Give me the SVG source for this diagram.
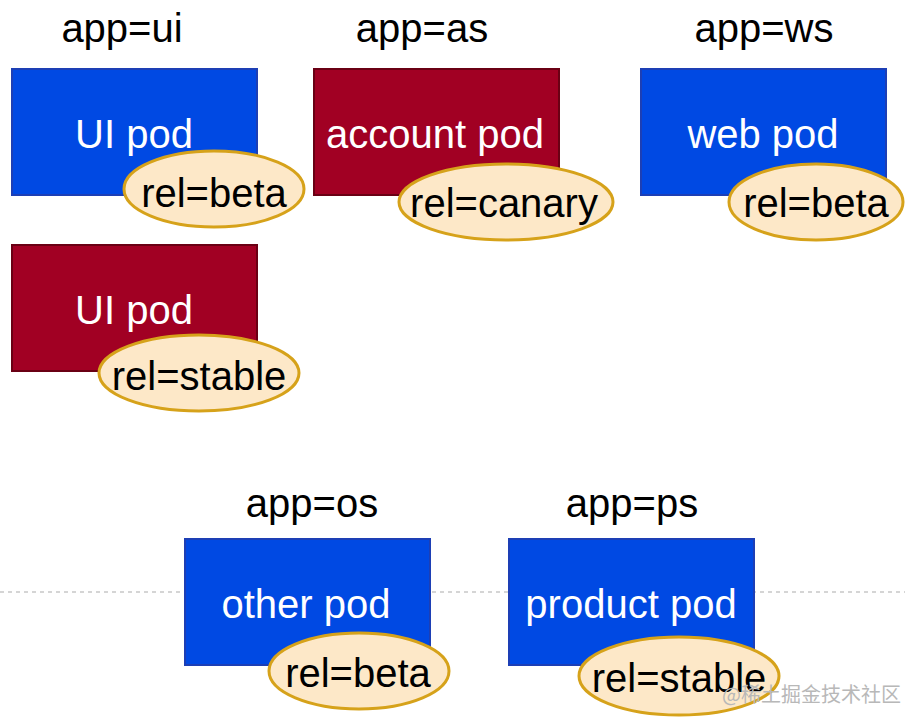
<svg xmlns="http://www.w3.org/2000/svg" width="905" height="720" viewBox="0 0 905 720">
<style>
text{font-family:"Liberation Sans",Arial,sans-serif;font-size:40px;text-anchor:middle}
.blue{fill:#0049e3;stroke:#1d3fb5;stroke-width:2}
.red{fill:#a10023;stroke:#6a0014;stroke-width:2}
.tag{fill:#fde8c8;stroke:#d6a21a;stroke-width:3}
.pt{fill:#ffffff}
.lt{fill:#000000}
.ap{fill:#000000}
.wm{font-family:"Noto Sans CJK SC",sans-serif;font-size:20px;fill:#b8b8b8;text-anchor:start}
</style>
<rect width="905" height="720" fill="#ffffff"/>
<line x1="0" y1="592" x2="905" y2="592" stroke="#c8c8c8" stroke-width="1.5" stroke-dasharray="4 4"/>
<g id="label-ui"><text class="ap" x="122" y="42">app=ui</text></g>
<g id="label-as"><text class="ap" x="422" y="42">app=as</text></g>
<g id="label-ws"><text class="ap" x="764" y="42">app=ws</text></g>
<g id="label-os"><text class="ap" x="312" y="517">app=os</text></g>
<g id="label-ps"><text class="ap" x="632" y="517">app=ps</text></g>
<g id="ui-beta">
<rect class="blue" x="12" y="69" width="245" height="126"/>
<text class="pt" x="134" y="148">UI pod</text>
<ellipse class="tag" cx="214" cy="189" rx="90" ry="38"/>
<text class="lt" x="214" y="207">rel=beta</text>
</g>
<g id="account-canary">
<rect class="red" x="314" y="69" width="245" height="126"/>
<text class="pt" x="435" y="148">account pod</text>
<ellipse class="tag" cx="506" cy="202" rx="107" ry="38"/>
<text class="lt" x="504" y="217">rel=canary</text>
</g>
<g id="web-beta">
<rect class="blue" x="641" y="69" width="245" height="126"/>
<text class="pt" x="763" y="148">web pod</text>
<ellipse class="tag" cx="816" cy="202" rx="87" ry="38"/>
<text class="lt" x="816" y="217">rel=beta</text>
</g>
<g id="ui-stable">
<rect class="red" x="12" y="245" width="245" height="126"/>
<text class="pt" x="134" y="324">UI pod</text>
<ellipse class="tag" cx="199" cy="373" rx="100" ry="38"/>
<text class="lt" x="199" y="390">rel=stable</text>
</g>
<g id="other-beta">
<rect class="blue" x="185" y="539" width="245" height="126"/>
<text class="pt" x="306" y="618">other pod</text>
<ellipse class="tag" cx="359" cy="671" rx="90" ry="38"/>
<text class="lt" x="358" y="687">rel=beta</text>
</g>
<g id="product-stable">
<rect class="blue" x="509" y="539" width="245" height="126"/>
<text class="pt" x="631" y="618">product pod</text>
<ellipse class="tag" cx="679" cy="676" rx="100" ry="39"/>
<text class="lt" x="679" y="692">rel=stable</text>
</g>
<g id="connectors"></g>
<text class="wm" x="722" y="702">@稀土掘金技术社区</text>
</svg>
